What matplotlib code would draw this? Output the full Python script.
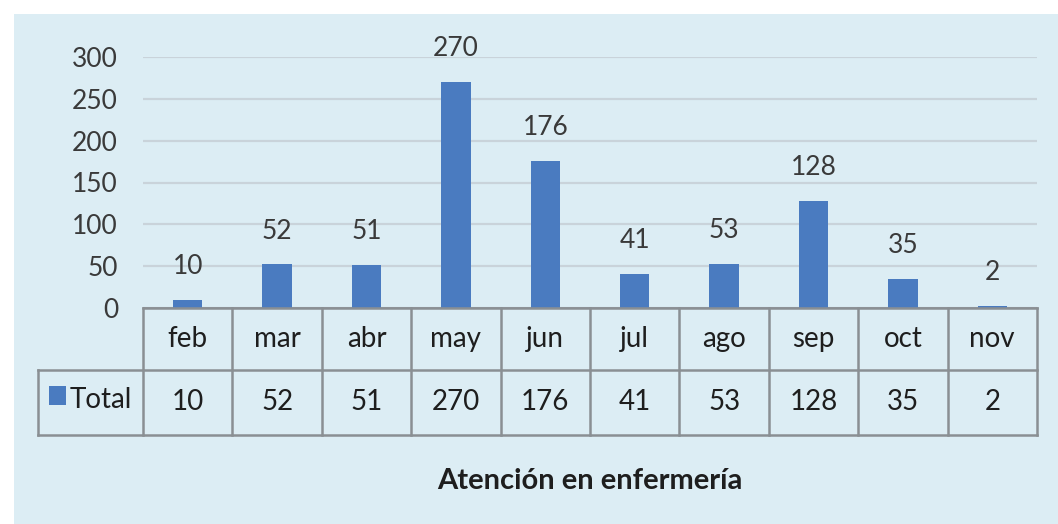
import matplotlib
matplotlib.use("Agg")
import matplotlib.pyplot as plt
import matplotlib.transforms as mtransforms
from matplotlib.patches import Rectangle

plt.rcParams['font.family'] = ['Lato', 'DejaVu Sans']

months = ["feb", "mar", "abr", "may", "jun", "jul", "ago", "sep", "oct", "nov"]
total = [10, 52, 51, 270, 176, 41, 53, 128, 35, 2]
series_name = "Total"
title = "Atención en enfermería"
yticks = [0, 50, 100, 150, 200, 250, 300]

W, H = 1058, 524
bg = "#DCEDF4"
bar_color = "#4A7BC0"
grid_color = "#C9D3DA"
line_color = "#8A8F93"
text_color = "#3A3A3A"

fig = plt.figure(figsize=(W / 100, H / 100), dpi=100, facecolor="white")
# light blue panel
fig.patches.append(Rectangle((14 / W, 0), 1 - 14 / W, 1 - 14 / H,
                             transform=fig.transFigure, facecolor=bg,
                             edgecolor="none", zorder=-10))

def fx(px):
    return px / W

def fy(py):
    return 1 - py / H

left, right = 143, 1037
top, bottom = 57, 308
ax = fig.add_axes([fx(left), fy(bottom), fx(right) - fx(left), fy(top) - fy(bottom)])
ax.set_zorder(2)
ax.set_facecolor("none")
ax.set_xlim(-0.5, len(months) - 0.5)
ax.set_ylim(0, 300)

ax.bar(range(len(months)), total, width=0.33, color=bar_color, zorder=3)
for i, v in enumerate(total):
    ax.annotate(str(v), (i, v), xytext=(0, 15), textcoords="offset points",
                ha="center", va="bottom", fontsize=19, color=text_color,
                annotation_clip=False)

ax.set_yticks(yticks)
ax.set_yticklabels([str(t) for t in yticks], fontsize=19, color=text_color)
ax.tick_params(axis="y", length=0, pad=18)
ax.set_xticks([])
ax.grid(axis="y", color=grid_color, lw=1.6, zorder=0)
for s in ax.spines.values():
    s.set_visible(False)
ax.axhline(0, color=line_color, lw=1.8, zorder=4)

# data table below the chart
row_h = 62 / (bottom - top)
trans = mtransforms.blended_transform_factory(ax.transData, ax.transAxes)
col_w = (right - left) / len(months)
label_left = -0.5 - (left - 38) / col_w
y0, y1, y2 = 0, -row_h, -2 * row_h - 0.01
n = len(months)
kw = dict(transform=trans, color=line_color, lw=1.8, clip_on=False)
ax.plot([-0.5, n - 0.5], [y0, y0], **kw)
ax.plot([label_left, n - 0.5], [y1, y1], **kw)
ax.plot([label_left, n - 0.5], [y2, y2], **kw)
ax.plot([label_left, label_left], [y1, y2], **kw)
for i in range(n + 1):
    ax.plot([i - 0.5, i - 0.5], [y0, y2], **kw)
for i, (m, v) in enumerate(zip(months, total)):
    ax.text(i, (y0 + y1) / 2, m, transform=trans, ha="center", va="center",
            fontsize=20, color="#1E1E1E")
    ax.text(i, (y1 + y2) / 2, str(v), transform=trans, ha="center", va="center",
            fontsize=20, color="#1E1E1E")

fig.patches.append(Rectangle((fx(49), fy(405)), fx(66) - fx(49), fy(386) - fy(405),
                             transform=fig.transFigure, facecolor=bar_color,
                             edgecolor="none", zorder=5))
fig.text(fx(70), fy(400), series_name, ha="left", va="center", fontsize=20,
         color="#1E1E1E")

fig.text(fx(590), fy(481), title, ha="center", va="center", fontsize=21,
         fontweight="bold", color="#1E1E1E")

fig.savefig("out.png", dpi=100, facecolor="white")
